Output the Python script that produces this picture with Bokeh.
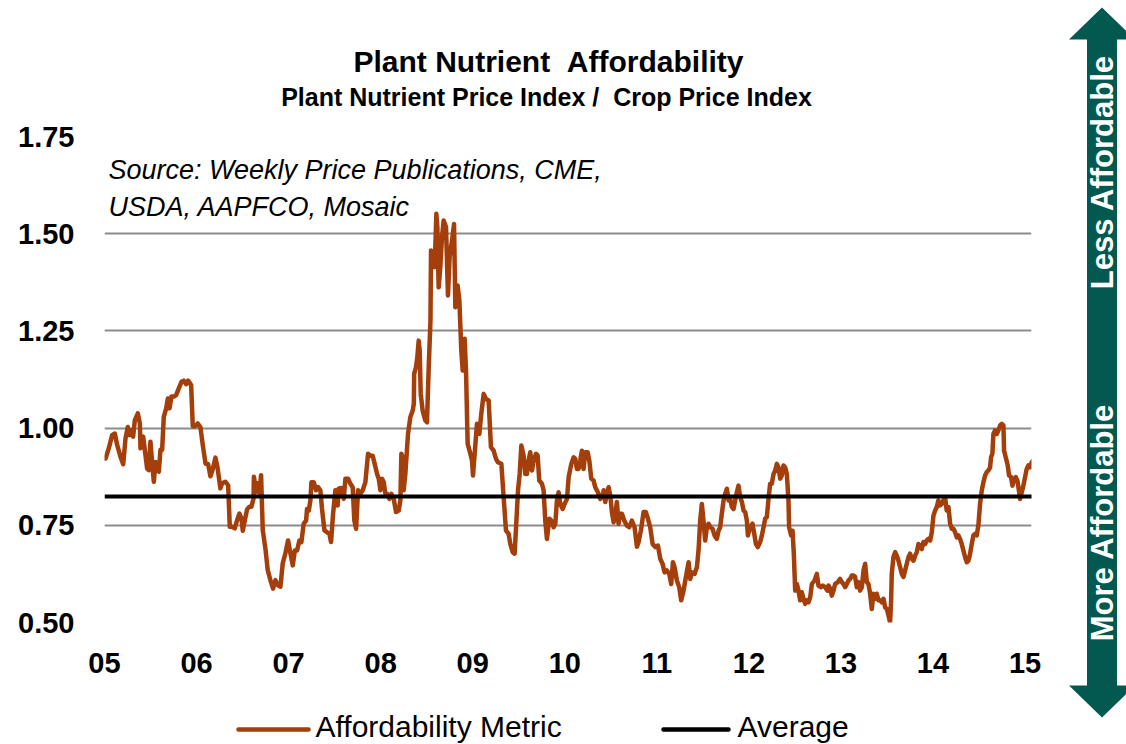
import math

from bokeh.core.properties import value
from bokeh.embed import file_html
from bokeh.layouts import column, row
from bokeh.models import FixedTicker, Label, NumeralTickFormatter, Range1d
from bokeh.plotting import figure
from bokeh.resources import INLINE

# ---------------------------------------------------------------- texts
# a no-break space keeps the wider word gaps of the original headings
TITLE = "Plant Nutrient \u00a0Affordability"
SUBTITLE = "Plant Nutrient Price Index / \u00a0Crop Price Index"
SOURCE_LINES = ["Source: Weekly Price Publications, CME,", "USDA, AAPFCO, Mosaic"]
SERIES_NAMES = ["Affordability Metric", "Average"]
ARROW_TEXTS = ["Less Affordable", "More Affordable"]

# ---------------------------------------------------------------- axes
YEAR_TICKS = list(range(2005, 2016))
YEAR_TICK_LABELS = ["05", "06", "07", "08", "09", "10", "11", "12", "13", "14", "15"]
VALUE_TICKS = [0.50, 0.75, 1.00, 1.25, 1.50, 1.75]

# ---------------------------------------------------------------- data
AVERAGE = 0.824

years = [
    # 2005 - 2006
    2005.000, 2005.011, 2005.047, 2005.083, 2005.112, 2005.138, 2005.174, 2005.203, 2005.228, 2005.253,
    2005.275, 2005.293, 2005.311, 2005.329, 2005.362, 2005.384, 2005.391, 2005.420, 2005.438, 2005.463,
    2005.481, 2005.499, 2005.518, 2005.536, 2005.554, 2005.572, 2005.590, 2005.608, 2005.626, 2005.644,
    2005.670, 2005.688, 2005.706, 2005.727, 2005.753, 2005.778, 2005.807, 2005.836, 2005.861, 2005.887,
    2005.908, 2005.941, 2005.959, 2005.988, 2006.013, 2006.042, 2006.068, 2006.097, 2006.126, 2006.151,
    2006.176, 2006.205, 2006.227, 2006.249, 2006.259, 2006.278, 2006.314, 2006.343, 2006.361, 2006.386,
    2006.415, 2006.440, 2006.466, 2006.488, 2006.502, 2006.524, 2006.549, 2006.574, 2006.596, 2006.619,
    2006.623, 2006.647, 2006.665, 2006.683, 2006.701, 2006.719, 2006.748, 2006.773, 2006.802, 2006.831,
    2006.857, 2006.882, 2006.911, 2006.936, 2006.965,
    # 2007 - 2008
    2006.994, 2007.020, 2007.045, 2007.067, 2007.092, 2007.117, 2007.139, 2007.164, 2007.190, 2007.200,
    2007.219, 2007.237, 2007.248, 2007.273, 2007.298, 2007.320, 2007.345, 2007.363, 2007.389, 2007.418,
    2007.443, 2007.461, 2007.483, 2007.508, 2007.533, 2007.544, 2007.573, 2007.599, 2007.617, 2007.646,
    2007.671, 2007.696, 2007.714, 2007.733, 2007.754, 2007.780, 2007.805, 2007.834, 2007.863, 2007.888,
    2007.913, 2007.935, 2007.961, 2007.979, 2007.997, 2008.015, 2008.033, 2008.051, 2008.069, 2008.094,
    2008.116, 2008.142, 2008.167, 2008.196, 2008.214, 2008.225, 2008.239, 2008.250, 2008.268, 2008.297,
    2008.322, 2008.348, 2008.360, 2008.364, 2008.384, 2008.398, 2008.413, 2008.424, 2008.435, 2008.456,
    2008.485, 2008.503, 2008.522, 2008.541, 2008.547, 2008.569, 2008.587, 2008.605, 2008.616, 2008.630,
    2008.648, 2008.666, 2008.684, 2008.710, 2008.731, 2008.749, 2008.775, 2008.797, 2008.811, 2008.836,
    2008.855, 2008.876, 2008.891, 2008.912, 2008.927, 2008.945, 2008.974, 2008.992, 2009.003,
    # 2009 - 2011
    2009.046, 2009.072, 2009.093, 2009.119, 2009.144, 2009.173, 2009.198, 2009.227, 2009.253, 2009.274,
    2009.311, 2009.336, 2009.361, 2009.390, 2009.408, 2009.434, 2009.455, 2009.473, 2009.492, 2009.510,
    2009.528, 2009.553, 2009.571, 2009.589, 2009.607, 2009.625, 2009.644, 2009.662, 2009.687, 2009.705,
    2009.723, 2009.752, 2009.770, 2009.788, 2009.806, 2009.832, 2009.853, 2009.879, 2009.897, 2009.915,
    2009.933, 2009.951, 2009.977, 2009.998, 2010.024, 2010.042, 2010.071, 2010.096, 2010.114, 2010.132,
    2010.150, 2010.168, 2010.186, 2010.204, 2010.223, 2010.248, 2010.266, 2010.288, 2010.313, 2010.331,
    2010.360, 2010.385, 2010.411, 2010.422, 2010.440, 2010.458, 2010.476, 2010.494, 2010.512, 2010.530,
    2010.548, 2010.566, 2010.584, 2010.603, 2010.621, 2010.646, 2010.675, 2010.700, 2010.729, 2010.758,
    2010.784, 2010.802, 2010.827, 2010.856, 2010.881, 2010.903, 2010.928, 2010.954, 2010.983, 2011.012,
    2011.037, 2011.062, 2011.084,
    # 2011 - 2013
    2011.109, 2011.135, 2011.156, 2011.175, 2011.193, 2011.218, 2011.243, 2011.265, 2011.290, 2011.316,
    2011.345, 2011.363, 2011.381, 2011.410, 2011.435, 2011.453, 2011.471, 2011.489, 2011.507, 2011.525,
    2011.544, 2011.562, 2011.580, 2011.605, 2011.627, 2011.652, 2011.670, 2011.688, 2011.706, 2011.725,
    2011.743, 2011.761, 2011.779, 2011.797, 2011.815, 2011.833, 2011.851, 2011.869, 2011.887, 2011.906,
    2011.924, 2011.942, 2011.960, 2011.978, 2011.989, 2012.014, 2012.039, 2012.061, 2012.076, 2012.097,
    2012.123, 2012.141, 2012.159, 2012.177, 2012.195, 2012.213, 2012.231, 2012.249, 2012.268, 2012.286,
    2012.304, 2012.322, 2012.340, 2012.358, 2012.376, 2012.394, 2012.412, 2012.430, 2012.437, 2012.459,
    2012.474, 2012.488, 2012.503, 2012.521, 2012.539, 2012.557, 2012.575, 2012.593, 2012.611, 2012.629,
    2012.647, 2012.666, 2012.684, 2012.713, 2012.738, 2012.756, 2012.781, 2012.803, 2012.828, 2012.854,
    2012.865, 2012.883, 2012.901, 2012.919, 2012.937, 2012.966, 2012.991, 2013.009, 2013.027, 2013.046,
    2013.064, 2013.082, 2013.100, 2013.118, 2013.136,
    # 2013 - 2015
    2013.154, 2013.172, 2013.190, 2013.208, 2013.227, 2013.245, 2013.263, 2013.281, 2013.299, 2013.317,
    2013.335, 2013.353, 2013.371, 2013.389, 2013.408, 2013.426, 2013.444, 2013.462, 2013.480, 2013.498,
    2013.516, 2013.534, 2013.545, 2013.552, 2013.570, 2013.589, 2013.607, 2013.625, 2013.643, 2013.661,
    2013.679, 2013.697, 2013.715, 2013.733, 2013.751, 2013.769, 2013.788, 2013.806, 2013.824, 2013.842,
    2013.860, 2013.878, 2013.896, 2013.914, 2013.932, 2013.950, 2013.969, 2013.987, 2014.005, 2014.023,
    2014.041, 2014.059, 2014.077, 2014.095, 2014.113, 2014.131, 2014.149, 2014.168, 2014.186, 2014.204,
    2014.222, 2014.240, 2014.258, 2014.276, 2014.294, 2014.312, 2014.330, 2014.349, 2014.367, 2014.385,
    2014.403, 2014.421, 2014.439, 2014.457, 2014.475, 2014.493, 2014.511, 2014.530, 2014.548, 2014.566,
    2014.584, 2014.602, 2014.620, 2014.631, 2014.645, 2014.656, 2014.674, 2014.692, 2014.710, 2014.729,
    2014.747, 2014.765, 2014.772, 2014.790, 2014.812, 2014.826, 2014.848, 2014.863, 2014.881, 2014.899,
    2014.917, 2014.928, 2014.946, 2014.964, 2014.982, 2015.000, 2015.018, 2015.036, 2015.054, 2015.072,
    2015.091,
]

metric = [
    # 2005 - 2006
    0.922, 0.922, 0.948, 0.982, 0.986, 0.956, 0.926, 0.907, 0.973, 1.003,
    0.982, 0.995, 0.978, 1.020, 1.038, 1.012, 0.948, 0.978, 0.944, 0.896,
    0.892, 0.965, 0.909, 0.862, 0.913, 0.892, 0.888, 0.944, 0.944, 1.029,
    1.051, 1.076, 1.051, 1.081, 1.081, 1.085, 1.102, 1.119, 1.122, 1.113,
    1.122, 1.111, 1.005, 1.005, 1.012, 1.002, 0.956, 0.909, 0.907, 0.876,
    0.894, 0.924, 0.900, 0.862, 0.845, 0.858, 0.862, 0.853, 0.746, 0.746,
    0.742, 0.763, 0.780, 0.767, 0.736, 0.763, 0.791, 0.798, 0.798, 0.819,
    0.875, 0.836, 0.858, 0.832, 0.879, 0.738, 0.690, 0.635, 0.609, 0.587,
    0.609, 0.596, 0.592, 0.652, 0.678,
    # 2007 - 2008
    0.711, 0.677, 0.647, 0.685, 0.685, 0.711, 0.707, 0.754, 0.762, 0.792,
    0.788, 0.814, 0.861, 0.861, 0.840, 0.848, 0.840, 0.792, 0.737, 0.732,
    0.728, 0.707, 0.779, 0.840, 0.801, 0.844, 0.846, 0.818, 0.870, 0.870,
    0.857, 0.848, 0.762, 0.741, 0.840, 0.831, 0.840, 0.861, 0.934, 0.929,
    0.929, 0.908, 0.882, 0.870, 0.840, 0.870, 0.861, 0.831, 0.831, 0.818,
    0.831, 0.818, 0.784, 0.788, 0.814, 0.934, 0.925, 0.840, 0.882, 0.985,
    1.028, 1.045, 1.062, 1.140, 1.157, 1.182, 1.225, 1.199, 1.088, 1.045,
    1.020, 1.015, 1.157, 1.277, 1.457, 1.453, 1.414, 1.551, 1.517, 1.362,
    1.414, 1.491, 1.534, 1.517, 1.341, 1.440, 1.482, 1.525, 1.311, 1.367,
    1.328, 1.199, 1.148, 1.230, 1.148, 0.960, 0.934, 0.917, 0.878,
    # 2009 - 2011
    1.011, 0.985, 1.037, 1.088, 1.075, 1.071, 0.951, 0.942, 0.921, 0.912,
    0.908, 0.822, 0.737, 0.728, 0.702, 0.681, 0.677, 0.754, 0.840, 0.882,
    0.955, 0.929, 0.882, 0.882, 0.917, 0.938, 0.891, 0.917, 0.934, 0.930,
    0.865, 0.857, 0.840, 0.762, 0.715, 0.767, 0.762, 0.745, 0.754, 0.814,
    0.835, 0.805, 0.792, 0.805, 0.818, 0.874, 0.908, 0.925, 0.921, 0.895,
    0.895, 0.917, 0.942, 0.895, 0.938, 0.938, 0.917, 0.870, 0.865, 0.848,
    0.835, 0.818, 0.822, 0.840, 0.810, 0.831, 0.848, 0.827, 0.784, 0.758,
    0.775, 0.810, 0.754, 0.780, 0.780, 0.762, 0.749, 0.745, 0.762, 0.745,
    0.695, 0.707, 0.737, 0.784, 0.784, 0.767, 0.745, 0.702, 0.694, 0.698,
    0.664, 0.651, 0.629,
    # 2011 - 2013
    0.634, 0.625, 0.599, 0.655, 0.642, 0.608, 0.591, 0.557, 0.582, 0.617,
    0.655, 0.612, 0.629, 0.625, 0.642, 0.685, 0.762, 0.805, 0.762, 0.711,
    0.745, 0.754, 0.745, 0.741, 0.724, 0.715, 0.736, 0.745, 0.780, 0.814,
    0.831, 0.844, 0.814, 0.818, 0.797, 0.792, 0.814, 0.835, 0.852, 0.822,
    0.810, 0.788, 0.784, 0.762, 0.724, 0.745, 0.754, 0.724, 0.702, 0.694,
    0.707, 0.724, 0.745, 0.767, 0.771, 0.818, 0.857, 0.857, 0.882, 0.891,
    0.908, 0.899, 0.870, 0.878, 0.904, 0.899, 0.882, 0.814, 0.745, 0.724,
    0.736, 0.677, 0.582, 0.599, 0.582, 0.557, 0.578, 0.561, 0.548, 0.557,
    0.552, 0.565, 0.599, 0.608, 0.625, 0.595, 0.591, 0.595, 0.591, 0.582,
    0.595, 0.587, 0.569, 0.582, 0.599, 0.604, 0.612, 0.604, 0.599, 0.591,
    0.599, 0.608, 0.612, 0.621, 0.621,
    # 2013 - 2015
    0.617, 0.591, 0.604, 0.582, 0.591, 0.634, 0.651, 0.604, 0.599, 0.574,
    0.535, 0.574, 0.561, 0.574, 0.557, 0.557, 0.552, 0.561, 0.539, 0.535,
    0.518, 0.501, 0.557, 0.625, 0.668, 0.681, 0.672, 0.659, 0.642, 0.625,
    0.617, 0.634, 0.651, 0.668, 0.677, 0.664, 0.659, 0.672, 0.681, 0.702,
    0.694, 0.689, 0.707, 0.702, 0.711, 0.715, 0.711, 0.732, 0.775, 0.788,
    0.797, 0.814, 0.801, 0.805, 0.814, 0.822, 0.788, 0.797, 0.754, 0.741,
    0.741, 0.732, 0.719, 0.724, 0.715, 0.702, 0.685, 0.668, 0.655, 0.659,
    0.677, 0.702, 0.724, 0.728, 0.724, 0.750, 0.805, 0.840, 0.861, 0.878,
    0.887, 0.891, 0.899, 0.925, 0.934, 0.985, 0.994, 0.985, 0.994, 1.007,
    1.011, 1.007, 0.942, 0.925, 0.904, 0.878, 0.874, 0.852, 0.870, 0.874,
    0.865, 0.848, 0.818, 0.835, 0.852, 0.874, 0.895, 0.904, 0.899, 0.912,
    0.917,
]

# ---------------------------------------------------------------- styling
FONT = "Liberation Sans"
RUST = "#A43E0A"
TEAL = "#03594F"
GRID = "#8C8C8C"
LINE_W = 4.5

X_START, X_END = 2005.0, 2015.07
Y_START, Y_END = 0.50, 1.75

PAGE_W, PAGE_H = 1126, 744
MAIN_W = 1066                 # chart column; the arrow strip fills the rest
ARROW_W = PAGE_W - MAIN_W
HEAD_H = 120                  # title band
FOOT_H = 54                   # legend band
BODY_H = PAGE_H - HEAD_H - FOOT_H

FRAME_LEFT, FRAME_RIGHT = 104, 1031
FRAME_TOP, FRAME_BOTTOM = 136, 622   # page pixels


def blank(width, height):
    """A figure whose frame fills its whole canvas, used as a drawing band."""
    f = figure(width=width, height=height, title=None,
               x_range=Range1d(0, width), y_range=Range1d(0, height),
               x_axis_type=None, y_axis_type=None,
               output_backend="svg", toolbar_location=None,
               min_border=0, min_border_left=0, min_border_right=0,
               min_border_top=0, min_border_bottom=0)
    f.outline_line_color = None
    f.grid.visible = False
    f.background_fill_color = "white"
    f.border_fill_color = "white"
    f.frame_align = False
    return f


# ---------------------------------------------------------------- title band
head = blank(MAIN_W, HEAD_H)
head.text(x=[548], y=[HEAD_H - 60.5], text=[TITLE], text_align="center",
          text_baseline="middle", text_font=value(FONT), text_font_style="bold",
          text_font_size="30px", text_color="black")
head.text(x=[546], y=[HEAD_H - 96.5], text=[SUBTITLE], text_align="center",
          text_baseline="middle", text_font=value(FONT), text_font_style="bold",
          text_font_size="25px", text_color="black")

# ---------------------------------------------------------------- chart
p = figure(
    width=MAIN_W, height=BODY_H, title=None,
    x_range=Range1d(X_START, X_END), y_range=Range1d(Y_START, Y_END),
    output_backend="svg", toolbar_location=None,
    min_border_left=FRAME_LEFT, min_border_right=MAIN_W - FRAME_RIGHT,
    min_border_top=FRAME_TOP - HEAD_H,
    min_border_bottom=HEAD_H + BODY_H - FRAME_BOTTOM,
)
p.frame_align = False
p.outline_line_color = None
p.background_fill_color = "white"
p.border_fill_color = "white"

p.xgrid.visible = False
p.ygrid.grid_line_color = GRID
p.ygrid.grid_line_width = 2

for ax in (p.xaxis[0], p.yaxis[0]):
    ax.axis_line_color = None
    ax.major_tick_line_color = None
    ax.minor_tick_line_color = None
    ax.major_tick_in = 0
    ax.major_tick_out = 0
    ax.minor_tick_in = 0
    ax.minor_tick_out = 0
    ax.major_label_text_font = FONT
    ax.major_label_text_font_style = "bold"
    ax.major_label_text_font_size = "29px"
    ax.major_label_text_color = "black"

p.xaxis.ticker = FixedTicker(ticks=YEAR_TICKS)
p.xaxis.major_label_overrides = dict(zip(YEAR_TICKS, YEAR_TICK_LABELS))
p.xaxis.major_label_standoff = 30

p.yaxis.ticker = FixedTicker(ticks=VALUE_TICKS)
p.yaxis.formatter = NumeralTickFormatter(format="0.00")
p.yaxis.major_label_standoff = 30

p.line(years, metric, line_color=RUST, line_width=LINE_W,
       line_join="round", line_cap="round")
p.line([years[0], years[-1]], [AVERAGE, AVERAGE],
       line_color="black", line_width=4)


def page_to_value(py):
    return Y_START + (FRAME_BOTTOM - py) * (Y_END - Y_START) / (FRAME_BOTTOM - FRAME_TOP)


def page_to_year(px):
    return X_START + (px - FRAME_LEFT) * (X_END - X_START) / (FRAME_RIGHT - FRAME_LEFT)


for line_text, mid in zip(SOURCE_LINES, (169.5, 206.5)):
    p.add_layout(Label(x=page_to_year(108), y=page_to_value(mid), text=line_text,
                       text_align="left", text_baseline="middle",
                       text_font=FONT, text_font_style="italic",
                       text_font_size="27px", text_color="black"))

# ---------------------------------------------------------------- legend band
foot = blank(MAIN_W, FOOT_H)
key_y = PAGE_H - 729
text_y = PAGE_H - 725.5
foot.segment(x0=[238], y0=[key_y], x1=[308], y1=[key_y],
             line_color=RUST, line_width=LINE_W, line_cap="round")
foot.segment(x0=[663], y0=[key_y], x1=[728], y1=[key_y],
             line_color="black", line_width=LINE_W, line_cap="round")
foot.text(x=[315, 737], y=[text_y, text_y], text=SERIES_NAMES,
          text_align="left", text_baseline="middle",
          text_font=value(FONT), text_font_size="30px", text_color="black")

# ---------------------------------------------------------------- arrow strip
arrow = blank(ARROW_W, PAGE_H)
cx = 1101.5 - MAIN_W
shaft, head_half = 15, 33
top_tip, top_base, bot_base, bot_tip = 7, 39, 685, 717
xs = [cx, cx + head_half, cx + shaft, cx + shaft, cx + head_half, cx,
      cx - head_half, cx - shaft, cx - shaft, cx - head_half]
ys = [PAGE_H - v for v in (top_tip, top_base, top_base, bot_base, bot_base, bot_tip,
                           bot_base, bot_base, top_base, top_base)]
arrow.patch(xs, ys, fill_color=TEAL, line_color=None)
arrow.text(x=[cx, cx], y=[PAGE_H - 171.5, PAGE_H - 522], text=ARROW_TEXTS,
           angle=math.pi / 2, text_align="center", text_baseline="middle",
           text_color="white", text_font=value(FONT), text_font_style="bold",
           text_font_size="31px")

layout = row(column(head, p, foot, spacing=0), arrow, spacing=0)

with open("out.html", "w") as f:
    f.write(file_html(layout, INLINE))
